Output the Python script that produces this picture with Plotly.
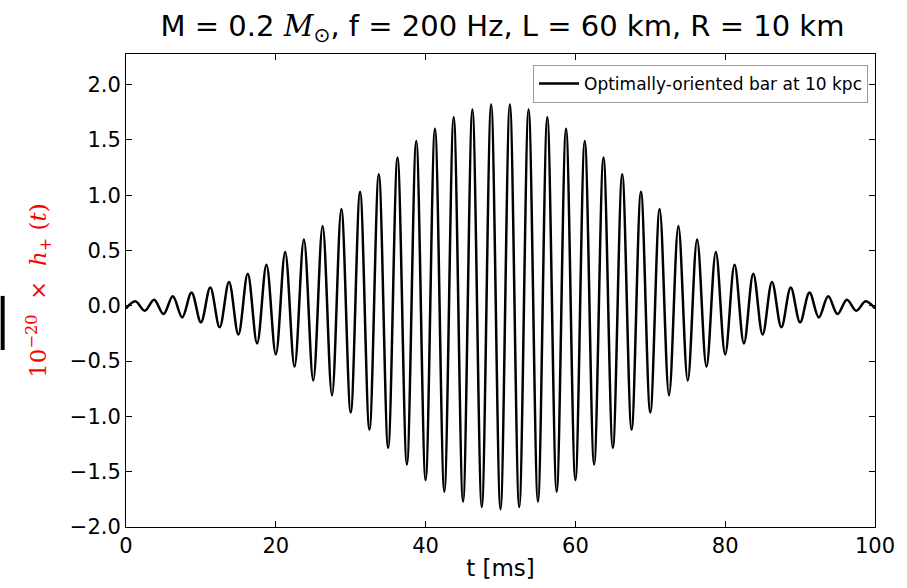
import plotly.graph_objects as go

# Times (ms) of the successive extrema of the waveform
t_ext = [0.0, 1.25, 2.5, 3.75, 5.0, 6.25, 7.5, 8.75, 10.0, 11.25,
         12.5, 13.75, 15.0, 16.25, 17.5, 18.75, 20.0, 21.25, 22.5, 23.75,
         25.0, 26.25, 27.5, 28.75, 30.0, 31.25, 32.5, 33.75, 35.0, 36.25,
         37.5, 38.75, 40.0, 41.25, 42.5, 43.75, 45.0, 46.25, 47.5, 48.75,
         50.0,
         51.25, 52.5, 53.75, 55.0, 56.25, 57.5, 58.75, 60.0, 61.25, 62.5,
         63.75, 65.0, 66.25, 67.5, 68.75, 70.0, 71.25, 72.5, 73.75, 75.0,
         76.25, 77.5, 78.75, 80.0, 81.25, 82.5, 83.75, 85.0, 86.25, 87.5,
         88.75, 90.0, 91.25, 92.5, 93.75, 95.0, 96.25, 97.5, 98.75, 100.0]

# 10^-20 x h_+(t) at those extrema
h_ext = [-0.025, 0.04, -0.045, 0.055, -0.075, 0.085, -0.105, 0.12, -0.15, 0.165,
         -0.195, 0.215, -0.26, 0.29, -0.34, 0.37, -0.44, 0.485, -0.55, 0.60,
         -0.675, 0.72, -0.81, 0.875, -0.965, 1.03, -1.12, 1.19, -1.285, 1.34,
         -1.435, 1.49, -1.575, 1.60, -1.68, 1.705, -1.77, 1.775, -1.82, 1.82,
         -1.84,
         1.82, -1.82, 1.775, -1.77, 1.705, -1.68, 1.60, -1.575, 1.49, -1.435,
         1.34, -1.285, 1.19, -1.12, 1.03, -0.965, 0.875, -0.81, 0.72, -0.675,
         0.60, -0.55, 0.485, -0.44, 0.37, -0.34, 0.29, -0.26, 0.215, -0.195,
         0.165, -0.15, 0.12, -0.105, 0.085, -0.075, 0.055, -0.045, 0.04, -0.025]

x_ticks = [0, 20, 40, 60, 80, 100]
y_ticks = [-2.0, -1.5, -1.0, -0.5, 0.0, 0.5, 1.0, 1.5, 2.0]
y_tick_text = ["\u22122.0", "\u22121.5", "\u22121.0", "\u22120.5", "0.0", "0.5", "1.0", "1.5", "2.0"]

fig = go.Figure()
fig.add_trace(go.Scatter(
    x=t_ext, y=h_ext, mode="lines",
    line=dict(color="black", width=2.5, shape="spline", smoothing=1.0),
    name="Optimally-oriented bar at 10 kpc",
))

axis_common = dict(
    showline=True, linecolor="black", linewidth=1, mirror="ticks",
    ticks="inside", ticklen=6, tickcolor="black", tickwidth=1,
    showgrid=False, zeroline=False,
    tickfont=dict(family="DejaVu Sans", size=21, color="black"),
)

fig.update_layout(
    width=907, height=588,
    margin=dict(l=126, r=28, t=54, b=53),
    paper_bgcolor="white", plot_bgcolor="white",
    title=dict(
        text="M = 0.2 <span style='font-family:DejaVu Serif'><i>M</i></span><sub>\u2299</sub>, f = 200 Hz, L = 60 km, R = 10 km",
        x=(126 + 879) / 2 / 907, xanchor="center",
        y=1 - 26 / 588, yanchor="middle",
        font=dict(family="DejaVu Sans", size=29, color="black"),
    ),
    showlegend=True,
    legend=dict(
        x=0.9907, xanchor="right", y=0.977, yanchor="top",
        bordercolor="#999999", borderwidth=1, bgcolor="white",
        font=dict(family="DejaVu Sans", size=17, color="black"),
        tracegroupgap=0, itemwidth=40,
    ),
)

fig.update_xaxes(
    range=[0, 100], tickvals=x_ticks, ticktext=[str(v) for v in x_ticks],
    title=dict(text="t [ms]", font=dict(family="DejaVu Sans", size=23, color="black"), standoff=2),
    **axis_common,
)
fig.update_yaxes(
    range=[-2.0, 2.276], tickvals=y_ticks, ticktext=y_tick_text,
    title=dict(
        text="10<sup>\u221220</sup>  \u00d7  <i>h</i><sub>+</sub> (<i>t</i>)",
        font=dict(family="DejaVu Serif", size=23, color="red"), standoff=16,
    ),
    **axis_common,
)

# small black mark at the left edge of the figure
fig.add_shape(type="rect", xref="paper", yref="paper",
              x0=-126 / 753, x1=-122 / 753, y0=(535 - 355) / 481, y1=(535 - 300) / 481,
              fillcolor="black", line=dict(width=0))

fig.write_html("out.html")
